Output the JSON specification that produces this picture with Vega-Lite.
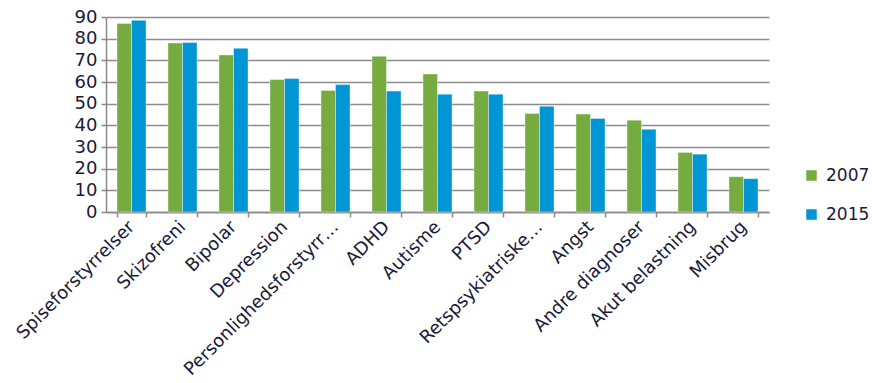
{
  "$schema": "https://vega.github.io/schema/vega-lite/v6.json",
  "width": 663,
  "height": 195,
  "autosize": "none",
  "padding": {"left": 106, "top": 17, "right": 103, "bottom": 171},
  "background": "white",
  "config": {"view": {"stroke": null}, "font": "DejaVu Sans"},
  "data": {"values": [
    {"cat": "Spiseforstyrrelser", "year": "2007", "v": 87},
    {"cat": "Spiseforstyrrelser", "year": "2015", "v": 88.5},
    {"cat": "Skizofreni", "year": "2007", "v": 78},
    {"cat": "Skizofreni", "year": "2015", "v": 78.2},
    {"cat": "Bipolar", "year": "2007", "v": 72.5},
    {"cat": "Bipolar", "year": "2015", "v": 75.6},
    {"cat": "Depression", "year": "2007", "v": 61.1},
    {"cat": "Depression", "year": "2015", "v": 61.6},
    {"cat": "Personlighedsforstyrr…", "year": "2007", "v": 56.1},
    {"cat": "Personlighedsforstyrr…", "year": "2015", "v": 58.8},
    {"cat": "ADHD", "year": "2007", "v": 71.9},
    {"cat": "ADHD", "year": "2015", "v": 55.8},
    {"cat": "Autisme", "year": "2007", "v": 63.7},
    {"cat": "Autisme", "year": "2015", "v": 54.4},
    {"cat": "PTSD", "year": "2007", "v": 55.8},
    {"cat": "PTSD", "year": "2015", "v": 54.4},
    {"cat": "Retspsykiatriske…", "year": "2007", "v": 45.5},
    {"cat": "Retspsykiatriske…", "year": "2015", "v": 48.8},
    {"cat": "Angst", "year": "2007", "v": 45.2},
    {"cat": "Angst", "year": "2015", "v": 43.2},
    {"cat": "Andre diagnoser", "year": "2007", "v": 42.4},
    {"cat": "Andre diagnoser", "year": "2015", "v": 38.2},
    {"cat": "Akut belastning", "year": "2007", "v": 27.5},
    {"cat": "Akut belastning", "year": "2015", "v": 26.7},
    {"cat": "Misbrug", "year": "2007", "v": 16.3},
    {"cat": "Misbrug", "year": "2015", "v": 15.4}
  ]},
  "mark": {"type": "bar", "stroke": "white", "strokeOpacity": 0.5, "strokeWidth": 0.8},
  "encoding": {
    "x": {
      "field": "cat", "type": "nominal", "sort": null, "title": null,
      "scale": {"paddingInner": 0.43, "paddingOuter": 0.215},
      "axis": {
        "labelAngle": -45, "labelAlign": "right", "labelBaseline": "middle",
        "labelFontSize": 18, "labelColor": "#1a1a3a", "labelPadding": 7,
        "labelLimit": 400, "labelOverlap": false,
        "domainColor": "#888888", "domainWidth": 1.5,
        "tickBand": "extent", "tickColor": "#888888", "tickWidth": 1.5, "tickSize": 5
      }
    },
    "xOffset": {"field": "year", "type": "nominal", "scale": {"paddingInner": 0, "paddingOuter": 0}},
    "y": {
      "field": "v", "type": "quantitative", "title": null,
      "scale": {"domain": [0, 90], "nice": false},
      "axis": {
        "values": [0,10,20,30,40,50,60,70,80,90],
        "labelFontSize": 18, "labelColor": "#1a1a3a", "labelPadding": 4,
        "grid": true, "gridColor": "#8c8c8c", "gridWidth": 1.5,
        "domainColor": "#888888", "domainWidth": 1.5,
        "tickColor": "#888888", "tickWidth": 1.5, "tickSize": 5
      }
    },
    "color": {
      "field": "year", "type": "nominal",
      "scale": {"domain": ["2007", "2015"], "range": ["#76AB3F", "#0096D6"]},
      "legend": {
        "title": null, "orient": "none", "legendX": 697, "legendY": 150,
        "symbolType": "square", "symbolSize": 110, "symbolStrokeWidth": 0,
        "labelFontSize": 17, "labelColor": "#1a1a3a", "rowPadding": 21, "labelOffset": 6
      }
    }
  }
}
